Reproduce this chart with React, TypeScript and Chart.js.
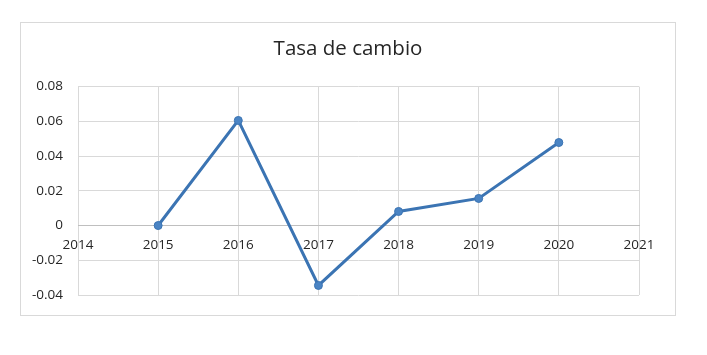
import React, { useEffect, useRef } from "react";
import { Chart, registerables } from "chart.js";

Chart.register(...registerables);

const titleText = "Tasa de cambio";
const years = [2015, 2016, 2017, 2018, 2019, 2020];
const rates = [0, 0.0605, -0.0345, 0.0081, 0.0156, 0.0478];
const xMin = 2014;
const xMax = 2021;
const yMin = -0.04;
const yMax = 0.08;
const yStep = 0.02;

export default function App() {
  const ref = useRef<HTMLCanvasElement | null>(null);

  useEffect(() => {
    if (!ref.current) return;
    const chart = new Chart(ref.current, {
      type: "line",
      data: {
        datasets: [
          {
            data: years.map((y, i) => ({ x: y, y: rates[i] })),
            borderColor: "#3b74b3",
            backgroundColor: "#4a84c4",
            pointBackgroundColor: "#4a84c4",
            pointBorderColor: "#3b74b3",
            pointBorderWidth: 1,
            pointRadius: 4,
            borderWidth: 3,
            tension: 0,
          },
        ],
      },
      options: {
        animation: false,
        responsive: false,
        maintainAspectRatio: false,
        layout: { padding: { left: 0, right: 0, top: 0, bottom: 20 } },
        plugins: {
          legend: { display: false },
          tooltip: { enabled: false },
          title: {
            display: true,
            text: titleText,
            color: "#262626",
            font: { family: "Open Sans", size: 20.5, weight: "normal" },
            padding: { top: 14, bottom: 25 },
          },
        },
        scales: {
          x: {
            type: "linear",
            position: { y: 0 } as any,
            min: xMin,
            max: xMax,
            afterFit: (s: any) => {
              s.height = 0;
            },
            grid: { color: "#d9d9d9", drawTicks: false },
            border: { display: true, color: "#bfbfbf" },
            ticks: {
              stepSize: 1,
              padding: 12,
              color: "#262626",
              font: { family: "Open Sans", size: 13.5 },
              maxRotation: 0,
              callback: (v: any) => String(v),
            },
          },
          y: {
            min: yMin,
            max: yMax,
            afterFit: (s: any) => {
              s.width = 57;
              s.paddingBottom = 8;
              s.paddingTop = 8;
            },
            grid: { color: "#d9d9d9", drawTicks: false },
            border: { display: false },
            ticks: {
              stepSize: yStep,
              padding: 15,
              color: "#262626",
              font: { family: "Open Sans", size: 13.5 },
              callback: (v: any) => String(Math.round(Number(v) * 100) / 100),
            },
          },
          yRight: {
            type: "linear",
            position: "right",
            min: yMin,
            max: yMax,
            afterFit: (s: any) => {
              s.width = 36;
              s.paddingBottom = 0;
              s.paddingTop = 0;
            },
            grid: { display: false, drawTicks: false },
            border: { display: false },
            ticks: { display: false },
          },
        },
      },
    });
    return () => chart.destroy();
  }, []);

  return (
    <div
      style={{
        position: "absolute",
        left: 20,
        top: 22,
        width: 656,
        height: 294,
        border: "1px solid #d9d9d9",
        boxSizing: "border-box",
        background: "#fff",
      }}
    >
      <canvas ref={ref} width={654} height={292} style={{ display: "block" }} />
    </div>
  );
}
